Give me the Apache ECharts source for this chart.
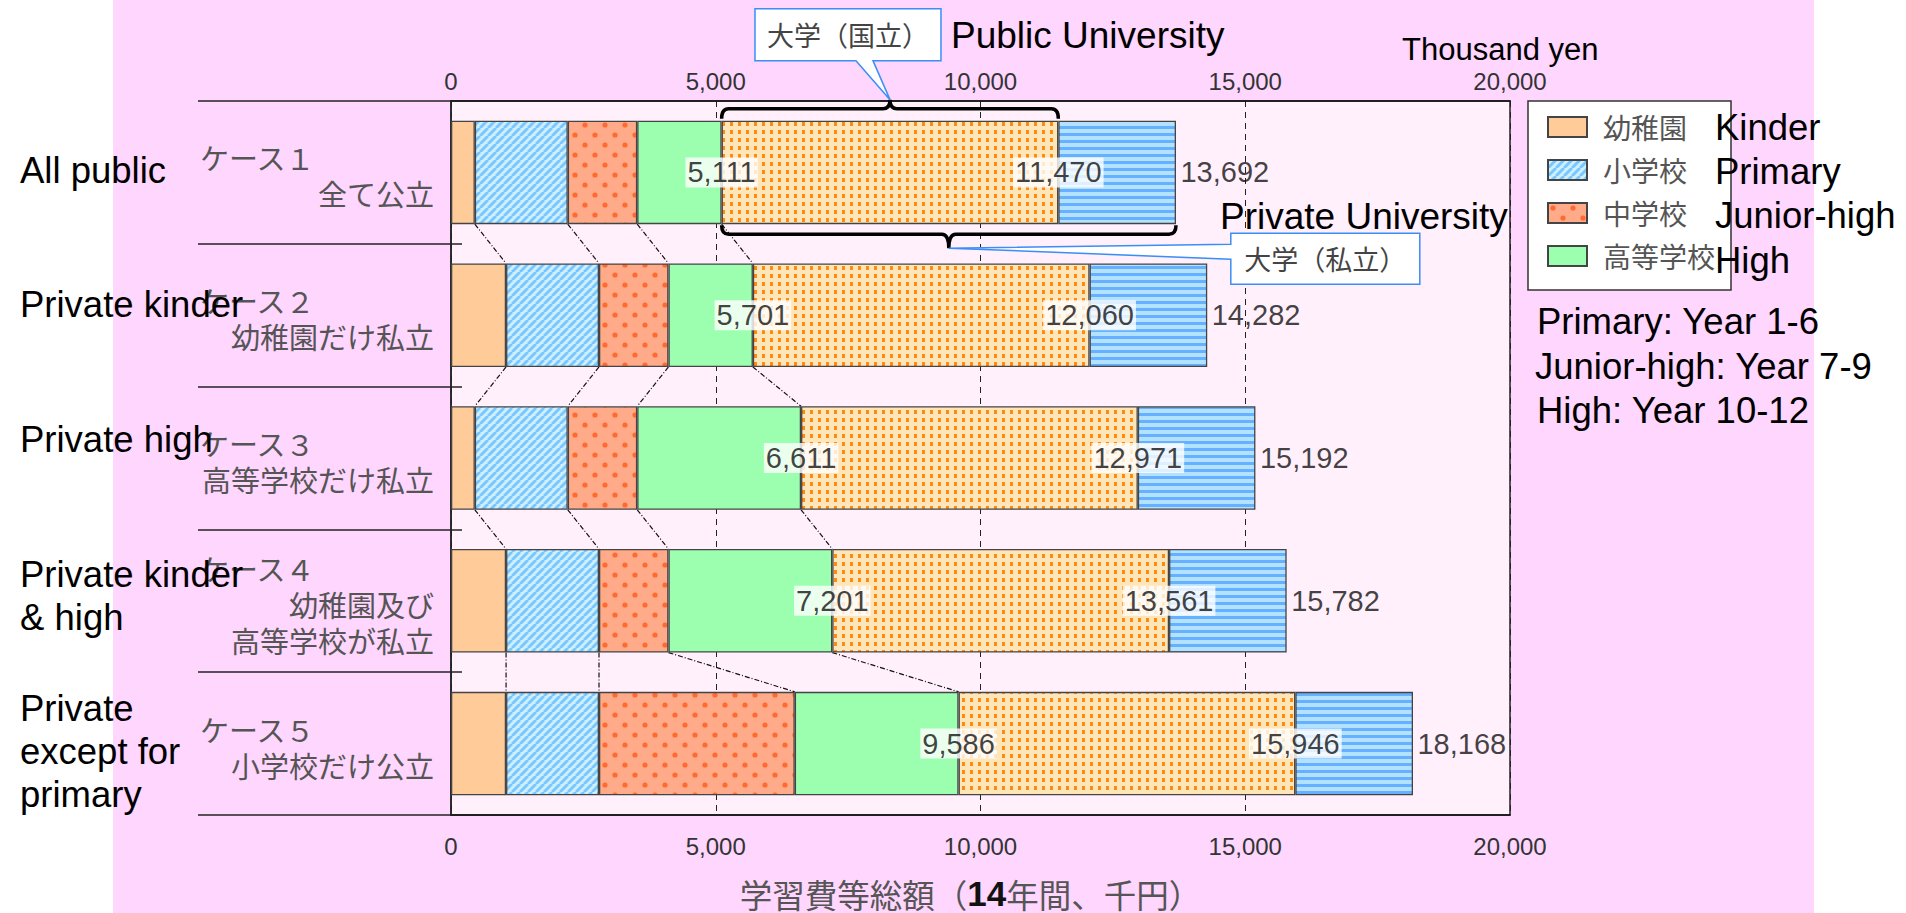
<!DOCTYPE html>
<html><head><meta charset="utf-8">
<script src="https://cdn.jsdelivr.net/npm/echarts@6/dist/echarts.min.js"></script>
<style>
html,body{margin:0;padding:0;background:#fff;}
#chart{width:1906px;height:913px;background:linear-gradient(to right,#fff 0,#fff 113px,#FFD6FE 113px,#FFD6FE 1814px,#fff 1814px,#fff 100%);}
</style></head><body><div id="chart"></div>
<script>
// ---- data ----
const categories = ['ケース１\n全て公立', 'ケース２\n幼稚園だけ私立', 'ケース３\n高等学校だけ私立', 'ケース４\n幼稚園及び\n高等学校が私立', 'ケース５\n小学校だけ公立'];
const categoriesEn = ['All public', 'Private kinder', 'Private high', 'Private kinder\n& high', 'Private\nexcept for\nprimary'];
const seriesNames = ['幼稚園', '小学校', '中学校', '高等学校', '大学（国立）', '大学（私立）'];
const kinder = [450, 1040, 450, 1040, 1040];
const primary = [1755, 1755, 1755, 1755, 1755];
const juniorHigh = [1312, 1312, 1312, 1312, 3697];
const high = [1594, 1594, 3094, 3094, 3094];
const uniPublic = [6359, 6359, 6360, 6360, 6360];
const uniPrivateExtra = [2222, 2222, 2221, 2221, 2222];
const xTicks = [0, 5000, 10000, 15000, 20000];
const xTitle = ['学習費等総額（', '14', '年間、千円）'];

// ---- derived ----
const segs = [kinder, primary, juniorHigh, high, uniPublic, uniPrivateExtra];
const cum = segs.map((_, k) => categories.map((__, i) => segs.slice(0, k + 1).reduce((s, a) => s + a[i], 0)));
const fmt = v => Number(v).toLocaleString('en-US');

const JP = "'Noto Sans CJK JP', 'Noto Sans', sans-serif";
const EN = "'Liberation Sans', Arial, sans-serif";
const BAR_FRAC = 0.725;

function tile(w, h, bg, draw) {
  const c = document.createElement('canvas'); c.width = w; c.height = h;
  const g = c.getContext('2d'); g.fillStyle = bg; g.fillRect(0, 0, w, h); draw(g);
  return { image: c, repeat: 'repeat' };
}
const pPrimary = tile(8, 8, '#CFEFFF', g => { g.strokeStyle = '#78C8FF'; g.lineWidth = 3; [-8, 0, 8].forEach(o => { g.beginPath(); g.moveTo(o, 8); g.lineTo(o + 8, 0); g.stroke(); }); });
const pJH = tile(20, 20, '#FFAA88', g => { g.fillStyle = '#FF6A33'; [[5, 5], [15, 15]].forEach(([x, y]) => { g.beginPath(); g.arc(x, y, 2.6, 0, Math.PI * 2); g.fill(); }); });
const pUni = tile(8, 8, '#FFE6B8', g => { g.fillStyle = '#FF8A10'; g.fillRect(2, 2, 3, 4); });
const pPriv = tile(8, 7, '#B2E2FF', g => { g.fillStyle = '#66B0FF'; g.fillRect(0, 0, 8, 3); });
const barColors = ['#FFCC99', pPrimary, pJH, '#9CFFB0', pUni, pPriv];

const barSeries = segs.map((arr, k) => ({
  name: seriesNames[k], type: 'bar', stack: 'total', barWidth: (BAR_FRAC * 100) + '%',
  data: arr, z: 3, silent: true,
  itemStyle: { color: barColors[k], borderColor: '#444', borderWidth: 1.3 }
}));

const connectorData = [];
for (let i = 0; i < categories.length - 1; i++) for (let k = 0; k < 4; k++) connectorData.push([cum[k][i], cum[k][i + 1], i]);

const braceData = [[cum[3][0], cum[4][0], 0, 0, seriesNames[4]], [cum[3][0], cum[5][0], 0, 1, seriesNames[5]]];

const enShift = [-2, -11, -19, -5, 8];

const note = (text, x, y, size) => ({ type: 'text', x: x, y: y, z: 100, zlevel: 0, style: { text: text, fontSize: size, fontFamily: EN, fill: '#000', verticalAlign: 'middle' } });

const chart = echarts.init(document.getElementById('chart'), null, { renderer: 'svg' });
chart.setOption({
  animation: false,
  backgroundColor: 'transparent',
  grid: { left: 451, right: 396, top: 101, bottom: 98, containLabel: false, outerBoundsMode: 'none', show: true, backgroundColor: '#FFF0FC', borderColor: '#222', borderWidth: 1.5 },
  legend: {
    data: seriesNames.slice(0, 4), orient: 'vertical', left: 1528, top: 101, icon: 'rect', z: 4,
    itemWidth: 39, itemHeight: 20, itemGap: 15, padding: [12, 16, 20, 19],
    backgroundColor: '#fff', borderColor: '#333', borderWidth: 1.5, selectedMode: false,
    textStyle: { fontSize: 28, color: '#555', fontFamily: JP, padding: [0, 0, 0, 11] }
  },
  xAxis: [
    {
      type: 'value', position: 'bottom', min: xTicks[0], max: xTicks[xTicks.length - 1], interval: xTicks[1] - xTicks[0],
      axisLine: { show: true, onZero: false, lineStyle: { color: '#111', width: 1.5 } },
      axisTick: { show: false },
      splitLine: { show: true, lineStyle: { color: '#222', type: [6, 5], width: 1 } },
      axisLabel: { margin: 19, fontSize: 24, color: '#333', fontFamily: EN, formatter: fmt },
      name: '{a|' + xTitle[0] + '}{b|' + xTitle[1] + '}{a|' + xTitle[2] + '}',
      nameLocation: 'middle', nameGap: 62, nameMoveOverlap: false,
      nameTextStyle: { padding: [0, 20, 0, 0], rich: { a: { fontSize: 32.5, lineHeight: 32, color: '#555', fontFamily: JP }, b: { fontSize: 35, lineHeight: 32, fontWeight: 'bold', color: '#111', fontFamily: EN } } }
    },
    {
      type: 'value', position: 'top', min: xTicks[0], max: xTicks[xTicks.length - 1], interval: xTicks[1] - xTicks[0],
      axisLine: { show: true, onZero: false, lineStyle: { color: '#111', width: 1.5 } },
      axisTick: { show: false }, splitLine: { show: false },
      axisLabel: { margin: 8, fontSize: 24, color: '#333', fontFamily: EN, formatter: fmt }
    }
  ],
  yAxis: [
    {
      type: 'category', inverse: true, data: categories, position: 'left',
      axisLine: { show: true, onZero: false, lineStyle: { color: '#222', width: 1.5 } },
      axisTick: { show: true, length: 253, lineStyle: { color: '#222', width: 1.5 } },
      axisLabel: {
        interval: 0, margin: 17, width: 234, overflow: 'none', padding: [6, 0, 0, 0],
        formatter: v => v.split('\n').map((t, j) => j === 0 ? '{l|' + t + '}' : '{r|' + t + '}').join('\n'),
        rich: {
          l: { align: 'left', fontSize: 29, lineHeight: 36, color: '#555', fontFamily: JP },
          r: { align: 'right', fontSize: 29, lineHeight: 36, color: '#555', fontFamily: JP }
        }
      }
    },
    {
      type: 'category', inverse: true, position: 'left',
      data: categoriesEn.map((v, i) => ({ value: v, textStyle: { padding: enShift[i] < 0 ? [0, 0, -2 * enShift[i], 0] : [2 * enShift[i], 0, 0, 0] } })),
      axisLine: { show: false },
      axisTick: { show: true, inside: true, length: 11, lineStyle: { color: '#222', width: 1.5 } },
      axisLabel: {
        interval: 0, margin: 180, width: 251, overflow: 'none',
        formatter: v => v.split('\n').map(t => '{e|' + t + '}').join('\n'),
        rich: { e: { align: 'left', color: '#000', fontSize: 36.5, lineHeight: 43, fontFamily: EN } }
      }
    }
  ],
  series: barSeries.concat([
    {
      type: 'custom', z: 2, silent: true, data: connectorData, encode: { x: [0, 1], y: 2 },
      renderItem: (params, api) => {
        const i = api.value(2);
        const a = api.coord([api.value(0), i]);
        const b = api.coord([api.value(1), i + 1]);
        const h = api.size([0, 1])[1] * BAR_FRAC / 2;
        return { type: 'line', shape: { x1: a[0], y1: a[1] + h, x2: b[0], y2: b[1] - h }, style: { stroke: '#111', lineWidth: 1.2, lineDash: [5, 2, 1, 2] } };
      }
    },
    {
      type: 'custom', z: 6, silent: true, data: braceData, encode: { x: [0, 1], y: 2 },
      renderItem: (params, api) => {
        const cat = api.value(2), dir = api.value(3) === 0 ? -1 : 1;
        const p1 = api.coord([api.value(0), cat]);
        const x1 = p1[0], x2 = api.coord([api.value(1), cat])[0];
        const h = api.size([0, 1])[1] * BAR_FRAC / 2;
        const yEdge = p1[1] + dir * h;
        const yLine = yEdge + (dir < 0 ? -12 : 10), yEnd = yEdge + (dir < 0 ? -2 : 1), yTip = yEdge + (dir < 0 ? -21 : 24);
        const xm = (x1 + x2) / 2, r = 7;
        const brace = `M${x1},${yEnd} Q${x1},${yLine} ${x1 + r},${yLine} L${xm - r},${yLine} Q${xm},${yLine} ${xm},${yTip} Q${xm},${yLine} ${xm + r},${yLine} L${x2 - r},${yLine} Q${x2},${yLine} ${x2},${yEnd}`;
        let call, bx, by, bw, bh;
        if (dir < 0) {
          bx = xm - 135; bw = 186; by = yTip - 91; bh = 52;
          call = `M${bx},${by} L${bx + bw},${by} L${bx + bw},${by + bh} L${xm - 17},${by + bh} L${xm},${yTip} L${xm - 34},${by + bh} L${bx},${by + bh} Z`;
        } else {
          bx = xm + 282; bw = 189; by = yTip - 15; bh = 51;
          call = `M${bx},${by} L${bx + bw},${by} L${bx + bw},${by + bh} L${bx},${by + bh} L${bx},${by + 26} L${xm},${yTip} L${bx},${by + 11} Z`;
        }
        return {
          type: 'group', children: [
            { type: 'path', shape: { pathData: brace }, style: { fill: 'none', stroke: '#000', lineWidth: 3.5 } },
            { type: 'path', shape: { pathData: call }, style: { fill: '#fff', stroke: '#3A8EF6', lineWidth: 1.5 } },
            { type: 'text', x: bx + bw / 2, y: by + bh / 2, style: { text: api.value(4), fontSize: 27, fontFamily: JP, fill: '#444', align: 'center', verticalAlign: 'middle' } }
          ]
        };
      }
    },
    {
      type: 'scatter', z: 10, silent: true, symbolSize: 1, itemStyle: { color: 'rgba(0,0,0,0)' },
      data: categories.map((_, i) => [cum[3][i], i]).concat(categories.map((_, i) => [cum[4][i], i])),
      label: { show: true, position: 'inside', formatter: p => fmt(p.value[0]), backgroundColor: '#fff', padding: [2, 2, 0, 2], color: '#111', fontSize: 29, lineHeight: 28, fontFamily: EN }
    },
    {
      type: 'scatter', z: 10, silent: true, symbolSize: 1, itemStyle: { color: 'rgba(0,0,0,0)' },
      data: categories.map((_, i) => [cum[5][i], i]),
      label: { show: true, position: 'right', distance: 4, formatter: p => fmt(p.value[0]), color: '#111', fontSize: 29, fontFamily: EN }
    }
  ]),
  graphic: {
    elements: [
      note('Public University', 951, 35, 37),
      note('Thousand yen', 1402, 49, 31),
      note('Private University', 1220, 216, 37),
      note('Kinder', 1715, 127, 36.5),
      note('Primary', 1715, 171, 36.5),
      note('Junior-high', 1715, 215, 36.5),
      note('High', 1715, 260, 36.5),
      note('Primary: Year 1-6', 1537, 321, 36.5),
      note('Junior-high: Year 7-9', 1535, 366, 36.5),
      note('High: Year 10-12', 1537, 410, 36.5)
    ]
  }
});
</script></body></html>
